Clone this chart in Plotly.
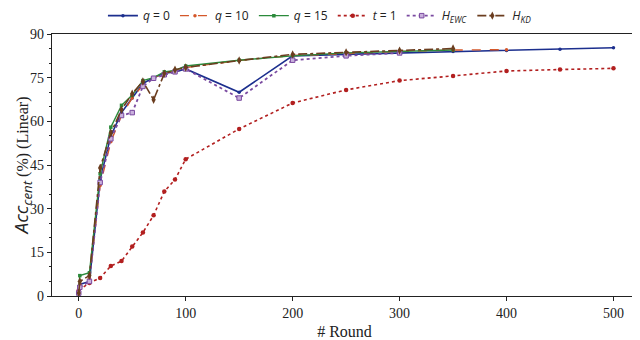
import plotly.graph_objects as go

# Rounds
x_long = [0, 1, 10, 20, 30, 40, 50, 60, 70, 80, 90, 100, 150, 200, 250, 300, 350, 400, 450, 500]
x_t1 = [0, 10, 20, 30, 40, 50, 60, 70, 80, 90, 100, 150, 200, 250, 300, 350, 400, 450, 500]

# q = 0
q0_x = x_long
q0_y = [1, 4, 5, 40, 55, 63, 68, 73, 75, 76.5, 77, 78, 70, 82.5, 83, 83.5, 84, 84.3, 84.8, 85.3]
# q = 10
q10_x = x_long[:18]
q10_y = [1, 4, 6, 38, 53, 62, 68, 72.5, 75, 76.5, 77.5, 78.5, 80.9, 82.6, 83.2, 84, 84.5, 84.6]
# q = 15
q15_x = x_long[:17]
q15_y = [2, 7, 8, 42, 58, 65.5, 69, 74, 75, 77, 77.5, 79, 81, 82.5, 83.5, 84, 84.5]
# t = 1
t1_x = x_t1
t1_y = [2, 4.5, 6.2, 10.3, 12, 17, 21.8, 27.7, 35.9, 40, 47, 57.4, 66.3, 70.8, 74, 75.6, 77.3, 77.8, 78.2]
# H_EWC
ewc_x = x_long[:16]
ewc_y = [1, 3, 5, 39, 54, 62, 63, 72, 74.8, 76, 77, 78, 68, 81, 82.5, 83.5]
# H_KD
kd_x = x_long[:17]
kd_y = [1, 5, 7, 44, 56, 64, 69.5, 73.7, 67.4, 76.4, 77.7, 78.5, 80.9, 83, 83.7, 84.3, 85]

x_ticks = [0, 100, 200, 300, 400, 500]
y_ticks = [0, 15, 30, 45, 60, 75, 90]

series = [
    ("<i>q</i> = 0", q0_x, q0_y, "#1c2f8e", "solid", "circle", 3.5, 1.6),
    ("<i>q</i> = 10", q10_x, q10_y, "#d4572a", "dash", "circle", 3.5, 1.4),
    ("<i>q</i> = 15", q15_x, q15_y, "#2b8a3b", "solid", "square", 3.5, 1.4),
    ("<i>t</i> = 1", t1_x, t1_y, "#b21f1f", "dot", "circle", 4.5, 1.6),
    ("<i>H</i><sub><i>EWC</i></sub>", ewc_x, ewc_y, "#7a4aa0", "dot", "square", 4.5, 1.8),
    ("<i>H</i><sub><i>KD</i></sub>", kd_x, kd_y, "#6b3d1f", "dashdot", "diamond-tall", 6, 1.6),
]

fig = go.Figure()
for name, xs, ys, col, dash, sym, msize, lw in series:
    marker = dict(symbol=sym, size=msize, color=col)
    if "EWC" in name:
        marker = dict(symbol="square", size=msize, color="#c9b0dc", line=dict(color=col, width=1))
    fig.add_trace(go.Scatter(
        x=xs, y=ys, name=name, mode="lines+markers",
        line=dict(color=col, dash=dash, width=lw),
        marker=marker,
    ))

serif = "Liberation Serif, Times New Roman, serif"
sans = "Open Sans"
# page body has an 8px margin, so the figure is 632x332 and offsets are reduced by 8
fig.update_layout(
    width=632, height=332,
    margin=dict(l=44, r=3, t=26, b=44, autoexpand=False),
    paper_bgcolor="white", plot_bgcolor="white",
    font=dict(family=serif, size=13, color="#222"),
    showlegend=True,
    legend=dict(
        orientation="h", x=0.458, xanchor="center",
        y=1.07, yanchor="middle",
        font=dict(family=sans, size=12, color="#222"),
        itemwidth=30, tracegroupgap=0, bgcolor="rgba(0,0,0,0)",
    ),
    xaxis=dict(
        range=[-25, 522], tickvals=x_ticks, ticktext=[str(v) for v in x_ticks],
        showline=True, linecolor="#222", linewidth=1.3, mirror=True,
        ticks="outside", ticklen=4, tickcolor="#222", showgrid=False, zeroline=False,
        automargin=False,
        title=dict(text="# Round", font=dict(family=serif, size=16), standoff=6),
        tickfont=dict(family=serif, size=14),
    ),
    yaxis=dict(
        range=[0, 90], tickvals=y_ticks, ticktext=[str(v) for v in y_ticks],
        showline=True, linecolor="#222", linewidth=1.3, mirror=True,
        ticks="outside", ticklen=4, tickcolor="#222", showgrid=False, zeroline=False,
        automargin=False,
        minor=dict(dtick=5, ticks="outside", ticklen=2, tickcolor="#222"),
        title=dict(
            text="<span style='font-family:Open Sans;font-size:19px'><i>Acc</i></span><span style='font-family:Open Sans;font-size:19px'><sub><i>cent</i></sub></span> (%) (Linear)",
            font=dict(family=serif, size=16), standoff=5),
        tickfont=dict(family=serif, size=14),
    ),
)

fig.write_html("out.html")
